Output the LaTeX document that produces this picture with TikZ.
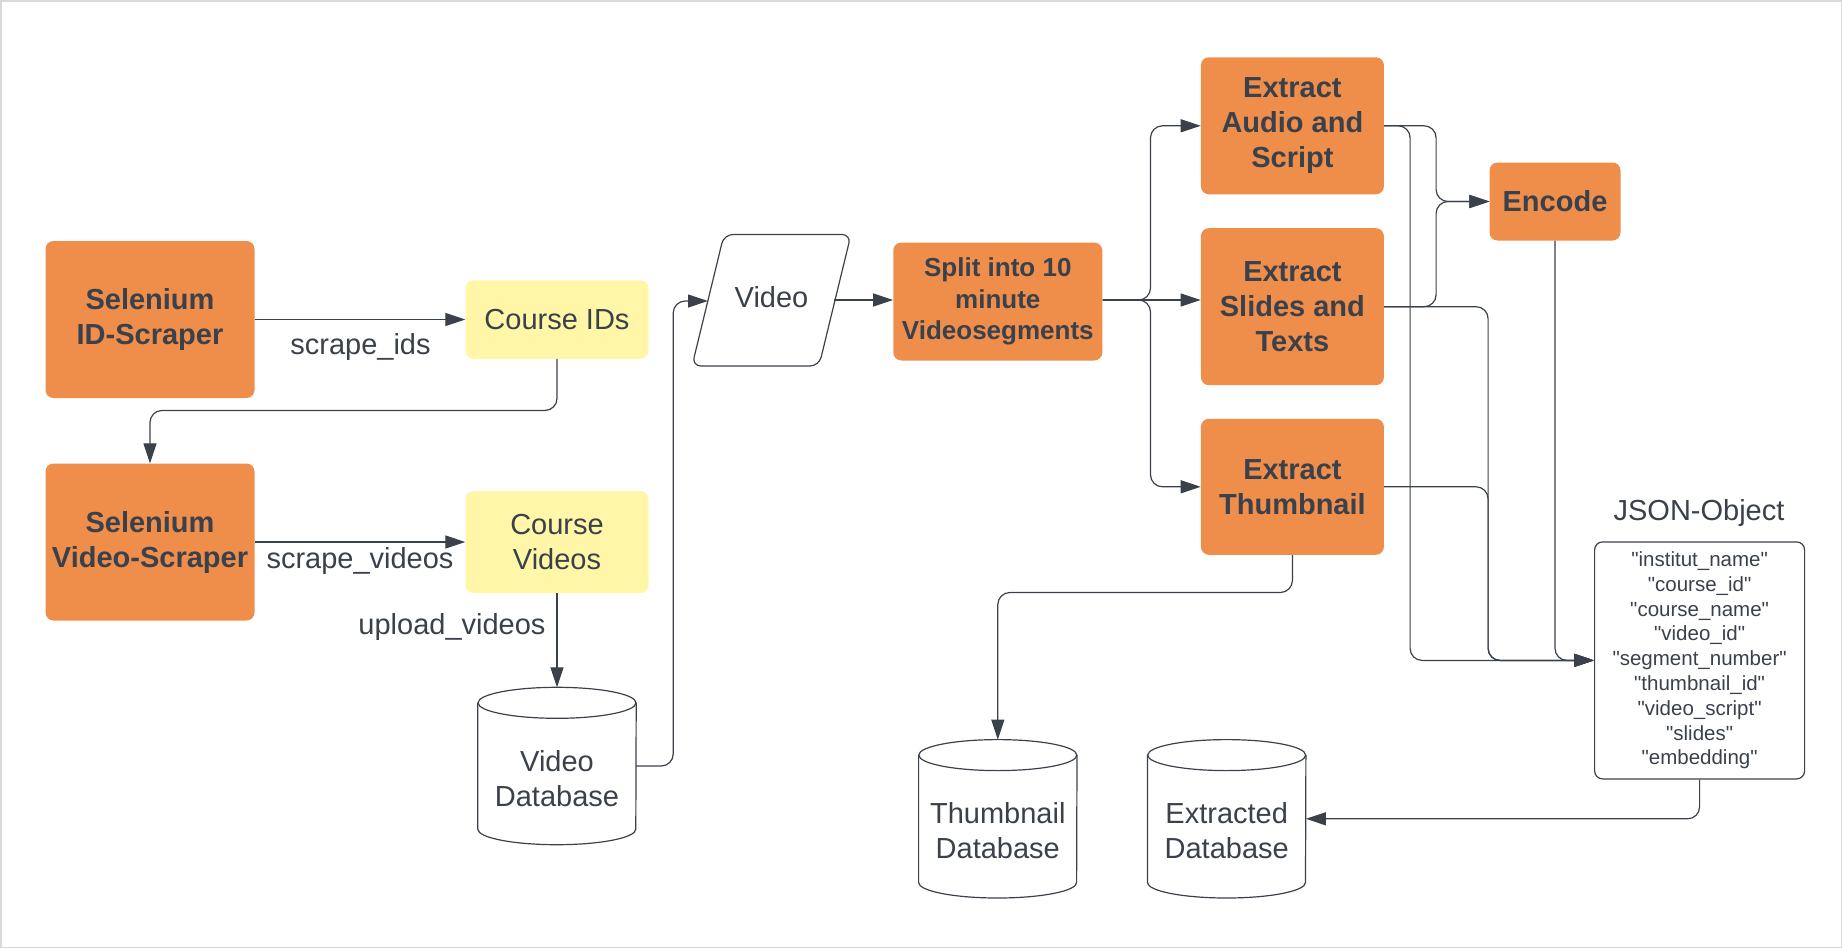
\documentclass[tikz,border=0pt]{standalone}
\usepackage{fontspec}
\setmainfont{Liberation Sans}
\newfontfamily\jsonfont{Liberation Sans}
\usetikzlibrary{arrows.meta,calc}
\definecolor{orng}{HTML}{EF8D4B}
\definecolor{ylw}{HTML}{FFF6A8}
\definecolor{ink}{HTML}{3A414B}
\newcommand\drawdb[1]{%
  \draw[dbline] ($(#1.north west)+(0pt,-15.5pt)$) -- ($(#1.south west)+(0pt,15.5pt)$)
    arc[start angle=180,end angle=360,x radius=79pt,y radius=15.5pt]
    -- ($(#1.north east)+(0pt,-15.5pt)$);
  \draw[dbline] ($(#1.north)+(0pt,-15.5pt)$) ellipse[x radius=79pt,y radius=15.5pt];}
\begin{document}
\begin{tikzpicture}[x=1pt,y=-1pt,
  proc/.style={fill=orng, rounded corners=8pt, text=ink, font=\fontsize{29}{35}\selectfont\bfseries, align=center, inner sep=0pt},
  data/.style={fill=ylw, rounded corners=8pt, text=ink, font=\fontsize{29}{35}\selectfont, align=center, inner sep=0pt},
  conn/.style={draw=ink, line width=1.2pt, rounded corners=12pt, -{Triangle[length=20pt,width=13pt]}},
  dbline/.style={draw=ink, line width=1.2pt},
  lbl/.style={text=ink, font=\fontsize{29}{35}\selectfont, inner sep=0pt, align=center},
  dbnode/.style={minimum width=158pt, minimum height=157pt, inner sep=0pt},
]
\useasboundingbox (0,0) rectangle (1842,948);
\draw[black!15, line width=1.5pt] (0.75,0.75) rectangle (1841.25,947.25);

% left column
\node[proc, minimum width=209pt, minimum height=157pt] (sel1) at (150,319.5) {Selenium\\ID-Scraper};
\node[proc, minimum width=209pt, minimum height=157pt] (sel2) at (150,542) {Selenium\\Video-Scraper};
\node[data, minimum width=183pt, minimum height=78.5pt] (cids) at (557,319.5) {Course IDs};
\node[data, minimum width=183pt, minimum height=102pt] (cvid) at (557,542) {Course\\Videos};
\node[dbnode] (vdb) at (557,766) {};
\drawdb{vdb}
\node[lbl] (vdbt) at (557,778.5) {Video\\Database};

\node[lbl] (l1) at (360.5,347) {scrape\_ids};
\node[lbl] (l2) at (360,561) {scrape\_videos};
\node[lbl] (l3) at (452,627) {upload\_videos};

% video parallelogram
\draw[dbline, rounded corners=9pt] (692,366) -- (724,234.5) -- (851,234.5) -- (819,366) -- cycle;
\node[lbl] (video) at (771.5,297) {Video};
\coordinate (videoW) at (708,301);
\coordinate (videoE) at (834,300);

% split
\node[proc, minimum width=209pt, minimum height=118pt, font=\fontsize{26}{31.5}\selectfont\bfseries] (split) at (997.8,301.5) {Split into 10\\minute\\Videosegments};

% extract boxes
\node[proc, minimum width=183pt, minimum height=137pt] (audio) at (1292.4,125.8) {Extract\\Audio and\\Script};
\node[proc, minimum width=183pt, minimum height=157pt] (slides) at (1292.4,306.7) {Extract\\Slides and\\Texts};
\node[proc, minimum width=183pt, minimum height=136pt] (thumb) at (1292.4,486.8) {Extract\\Thumbnail};
\node[proc, minimum width=131pt, minimum height=78pt] (encode) at (1555,201.5) {Encode};

% JSON
\node[lbl] (jsonlbl) at (1699,513) {JSON-Object};
\node[draw=ink, line width=1.2pt, rounded corners=8pt, minimum width=210pt, minimum height=237pt, text=ink, align=center, inner sep=0pt, font=\jsonfont\fontsize{20.5}{24.8}\selectfont] (json) at (1699.6,660.4)
 {"institut\_name"\\"course\_id"\\"course\_name"\\"video\_id"\\"segment\_number"\\"thumbnail\_id"\\"video\_script"\\"slides"\\"embedding"};

% databases
\node[dbnode, minimum height=158pt] (tdb) at (997.8,818.8) {};
\drawdb{tdb}
\node[lbl] (tdbt) at (997.8,831) {Thumbnail\\Database};
\node[dbnode, minimum height=158pt] (edb) at (1226.7,818.8) {};
\drawdb{edb}
\node[lbl] (edbt) at (1226.7,831) {Extracted\\Database};

% connectors
\draw[conn] (sel1.east) -- (cids.west);
\draw[conn] (sel2.east) -- (cvid.west);
\draw[conn] (cids.south) -- ++(0,51.5) -| (sel2.north);
\draw[conn] (cvid.south) -- (vdb.north);
\draw[conn] (vdb.east) -- ++(37,0) |- (videoW);
\draw[conn] (videoE) -- (videoE -| split.west);

\draw[conn] (videoE -| split.east) -- ++(48,0) |- (audio.west);
\draw[conn] (videoE -| split.east) -- (videoE -| slides.west);
\draw[conn] (videoE -| split.east) -- ++(48,0) |- (thumb.west);

\draw[conn] (audio.east) -- ++(52,0) |- (encode.west);
\draw[conn] (slides.east) -- ++(52,0) |- (encode.west);

\draw[conn] (audio.east) -- ++(26,0) |- (json.west);
\draw[conn] (slides.east) -- ++(104,0) |- (json.west);
\draw[conn] (thumb.east) -- ++(104,0) |- (json.west);
\draw[conn] (encode.south) |- (json.west);

\draw[conn] (json.south) |- (edb.east);
\draw[conn] (thumb.south) -- ++(0,37.5) -| (tdb.north);
\end{tikzpicture}
\end{document}
